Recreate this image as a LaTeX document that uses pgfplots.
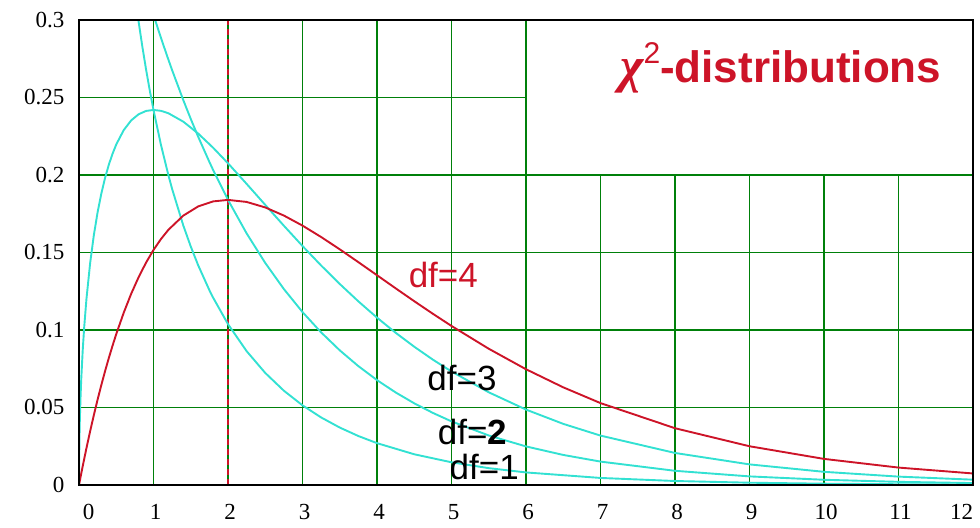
\documentclass[border=0pt]{standalone}
\usepackage{pgfplots}
\pgfplotsset{compat=1.18}
\usepackage{fontspec}
\setmainfont{Liberation Serif}
\newfontfamily\arial{Liberation Sans}
\definecolor{gridgreen}{RGB}{0,128,10}
\definecolor{cyanc}{RGB}{50,225,210}
\definecolor{redc}{RGB}{205,20,40}
\begin{document}
\begin{tikzpicture}
\begin{axis}[
  scale only axis, width=894bp, height=465bp,
  xmin=0, xmax=12, ymin=0, ymax=0.3,
  xtick={0,1,...,12}, ytick={0,0.05,0.1,0.15,0.2,0.25,0.3},
  yticklabels={0,0.05,0.1,0.15,0.2,0.25,0.3},
  xticklabel={\ifnum\ticknum=0 \makebox[0pt][l]{\hspace*{2bp}0}\else\ifnum\ticknum=12 \makebox[0pt][r]{12\hspace*{2bp}}\else\pgfmathprintnumber{\tick}\fi\fi},
  major tick length=0pt,
  axis line style={black, line width=2bp},
  tick label style={font=\fontsize{23bp}{25bp}\selectfont},
  /pgf/number format/assume math mode=true,
  xticklabel style={yshift=-16bp, xshift=2bp},
  yticklabel style={xshift=-11bp},
  clip=true,
  axis on top,
]
% grid
\foreach \xx in {1,2,3,4,5,6} {
  \edef\tmp{\noexpand\draw[gridgreen, line width=1.9bp] (axis cs:\xx,0) -- (axis cs:\xx,0.3);}\tmp
}
\foreach \xx in {7,8,9,10,11} {
  \edef\tmp{\noexpand\draw[gridgreen, line width=1.9bp] (axis cs:\xx,0) -- (axis cs:\xx,0.2);}\tmp
}
\foreach \yy in {0.05,0.1,0.15,0.2} {
  \edef\tmp{\noexpand\draw[gridgreen, line width=1.9bp] (axis cs:0,\yy) -- (axis cs:12,\yy);}\tmp
}
\draw[gridgreen, line width=1.9bp] (axis cs:0,0.25) -- (axis cs:6,0.25);
\draw[redc, line width=2bp, dash pattern=on 6bp off 4bp] (axis cs:2,0) -- (axis cs:2,0.3);

% df=1
\addplot[cyanc, line width=1.9bp, line join=round] coordinates {
(0.7,0.33601) (0.75,0.31661) (0.8,0.29898) (0.85,0.28290) (0.9,0.26814) (0.95,0.25454)
(1,0.24197) (1.1,0.21946) (1.2,0.19987) (1.25,0.19099) (1.4,0.16743) (1.5,0.15387)
(1.6,0.14171) (1.75,0.12571) (1.8,0.12090) (2,0.10378) (2.25,0.08635) (2.5,0.07229)
(2.75,0.06083) (3,0.05139) (3.25,0.04358) (3.5,0.03706) (3.75,0.03159) (4,0.02700)
(4.5,0.01982) (5,0.01465) (5.5,0.01087) (6,0.00811) (7,0.00455) (8,0.00258)
(9,0.00148) (10,0.00085) (11,0.00049) (12,0.00029)};
% df=2
\addplot[cyanc, line width=1.9bp, line join=round] coordinates {
(0.5,0.38940) (0.8,0.33516) (1,0.30327) (1.1,0.28848) (1.2,0.27441) (1.25,0.26763)
(1.4,0.24829) (1.5,0.23618) (1.6,0.22466) (1.75,0.20843) (1.8,0.20329) (2,0.18394)
(2.25,0.16233) (2.5,0.14325) (2.75,0.12642) (3,0.11157) (3.25,0.09846) (3.5,0.08689)
(3.75,0.07668) (4,0.06767) (4.25,0.05972) (4.5,0.05270) (4.75,0.04651) (5,0.04104)
(5.5,0.03196) (6,0.02489) (6.5,0.01939) (7,0.01510) (8,0.00916)
(9,0.00555) (10,0.00337) (11,0.00204) (12,0.00124)};
% df=3
\addplot[cyanc, line width=1.9bp, line join=round] coordinates {
(0,0) (0.005,0.02814) (0.01,0.03970) (0.02,0.05586) (0.03,0.06807) (0.05,0.08700)
(0.07,0.10192) (0.1,0.12000) (0.15,0.14335) (0.2,0.16143) (0.25,0.17603)
(0.3,0.18807) (0.35,0.19813) (0.4,0.20658) (0.45,0.21370) (0.5,0.21970) (0.6,0.22893)
(0.7,0.23521) (0.8,0.23919) (0.9,0.24132) (1,0.24197) (1.1,0.24140) (1.2,0.23984)
(1.4,0.23441) (1.6,0.22674) (1.8,0.21761) (2,0.20755) (2.25,0.19428) (2.5,0.18072)
(2.75,0.16727) (3,0.15418) (3.25,0.14162) (3.5,0.12970) (3.75,0.11847) (4,0.10798)
(4.25,0.09823) (4.5,0.08920) (4.75,0.08087) (5,0.07323) (5.5,0.05981) (6,0.04865)
(6.5,0.03944) (7,0.03187) (8,0.02067) (9,0.01330) (10,0.00850) (11,0.00541) (12,0.00343)};
% df=4
\addplot[redc, line width=1.9bp, line join=round] coordinates {
(0,0) (0.05,0.01219) (0.1,0.02378) (0.15,0.03479) (0.2,0.04524) (0.25,0.05516)
(0.3,0.06455) (0.35,0.07345) (0.4,0.08187) (0.45,0.08983) (0.5,0.09735) (0.6,0.11112)
(0.7,0.12332) (0.8,0.13406) (0.9,0.14347) (1,0.15163) (1.1,0.15866) (1.2,0.16464)
(1.4,0.17380) (1.6,0.17973) (1.8,0.18296) (2,0.18394) (2.25,0.18262) (2.5,0.17907)
(2.75,0.17383) (3,0.16735) (3.25,0.15999) (3.5,0.15205) (3.75,0.14377) (4,0.13534)
(4.25,0.12690) (4.5,0.11858) (4.75,0.11046) (5,0.10261) (5.5,0.08790) (6,0.07468)
(6.5,0.06301) (7,0.05284) (8,0.03663) (9,0.02500) (10,0.01684) (11,0.01124) (12,0.00744)};

\node[redc, font=\arial\fontsize{35bp}{37bp}\selectfont] at (axis cs:4.89,0.1355) {df=4};
\node[black, font=\arial\fontsize{35bp}{37bp}\selectfont] at (axis cs:5.14,0.069) {df=3};
\node[black, font=\arial\fontsize{35bp}{37bp}\selectfont] at (axis cs:5.28,0.034) {df=\textbf{2}};
\node[black, font=\arial\fontsize{35bp}{37bp}\selectfont] at (axis cs:5.44,0.0116) {df=1};
\node[redc, font=\arial\bfseries\fontsize{44bp}{46bp}\selectfont] at (axis cs:9.42,0.269)
  {{\rmfamily\bfseries\itshape\fontsize{50bp}{52bp}\selectfont χ}\raisebox{0.42em}{\mdseries\fontsize{30bp}{32bp}\selectfont 2}-distributions};
\end{axis}
\path (current axis.south west) ++(-79bp,-43bp) coordinate (bbA);
\path (current axis.north east) ++(7bp,20bp) coordinate (bbB);
\path (bbA) rectangle (bbB);
\end{tikzpicture}
\end{document}
